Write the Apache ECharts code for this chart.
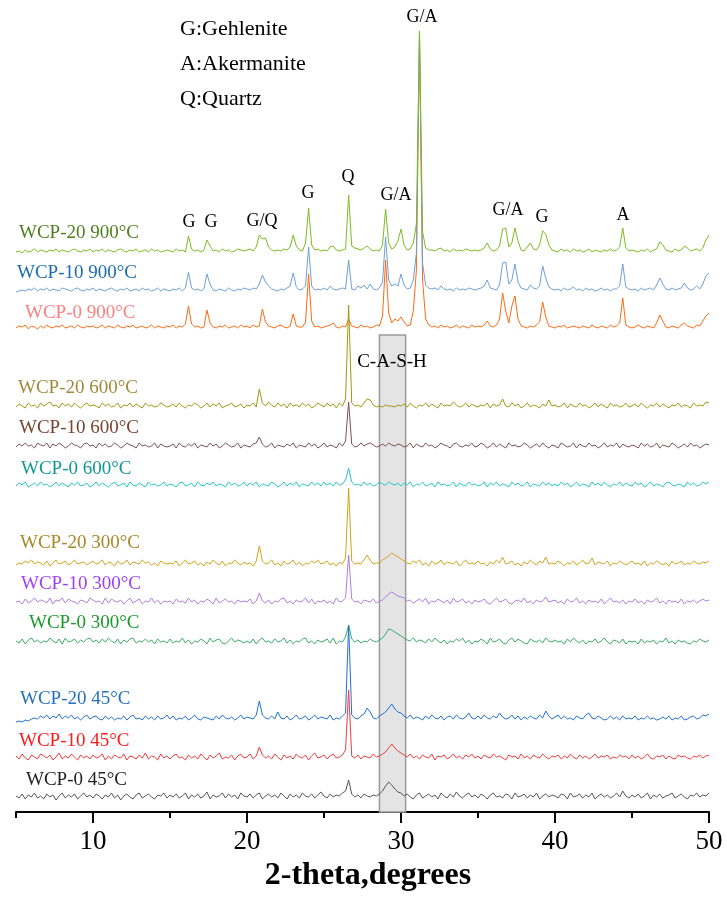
<!DOCTYPE html>
<html><head><meta charset="utf-8">
<script src="https://cdn.jsdelivr.net/npm/echarts@6/dist/echarts.min.js"></script>
<style>html,body{margin:0;padding:0;background:#fff}#c{width:727px;height:897px}</style>
</head><body><div id="c"></div>
<script>
// 2-theta sampling of every pattern: 5.0 .. 50.0 degrees, step 0.2
const thetaStart = 5, thetaStep = 0.2;
const majorTicks = [10, 20, 30, 40, 50];
const minorTicks = [5, 15, 25, 35, 45];

// Intensities (a.u.), one row per 5 degrees
const wcp0_45 = [
5,3,7,2,6, 4,8,3,5,2, 7,4,6,1,5, 8,3,6,4,7, 2,5,8,4,6,
3,7,5,2,6, 4,8,3,6,1, 5,7,4,2,6, 8,3,5,7,4, 2,6,5,8,3,
6,4,7,3,5, 8,2,6,4,7, 3,5,9,2,6, 4,5,8,3,7, 4,6,2,8,5,
4,7,3,6,8, 2,5,7,4,6, 3,8,5,2,7, 4,6,3,8,5, 4,7,3,6,9,
5,3,7,4,6, 5,8,10,21,7, 4,6,3,7,5, 4,6,5,7,10, 15,19,16,12,9,
8,5,7,4,2, 6,8,3,5,7, 4,6,2,8,5, 3,7,4,9,5, 3,6,8,4,6,
3,7,5,2,6, 8,4,5,3,7, 6,2,8,4,5, 7,3,6,4,8, 2,5,7,4,6,
5,3,7,6,2, 8,4,5,7,3, 6,4,8,2,5, 7,4,6,3,5, 8,4,10,5,3,
6,4,7,3,5, 8,2,6,4,7, 3,5,6,8,3, 5,7,4,2,6, 5,8,4,6,5,
8];
const wcp10_45 = [
6,3,8,4,2, 7,5,3,8,6, 4,7,2,5,9, 3,6,4,8,5, 2,7,4,6,3,
7,4,5,8,2, 6,3,7,5,4, 8,2,6,5,3, 7,4,9,3,6, 5,2,8,4,6,
3,6,8,4,5, 2,7,4,6,3, 8,5,2,7,4, 6,9,3,5,4, 7,2,6,8,4,
5,8,3,6,15, 7,4,6,3,8, 5,2,7,4,6, 3,8,5,4,7, 2,6,9,4,5,
7,3,6,8,4, 5,7,12,72,6, 4,7,3,6,5, 4,8,5,6,8, 10,14,18,14,11,
9,7,5,8,4, 6,3,7,5,4, 8,2,6,5,7, 3,5,8,4,6, 3,7,5,8,4,
6,3,7,5,4, 8,5,6,4,2, 7,5,6,3,8, 4,6,3,7,5, 4,8,5,3,6,
5,7,3,6,4, 8,5,3,7,4, 6,3,5,8,4, 6,5,7,3,5, 4,7,5,6,3,
7,4,6,3,5, 8,4,3,6,5, 7,3,6,4,3, 7,5,6,4,3, 6,5,7,4,6,
7];
const wcp20_45 = [
1,2,1,3,2, 4,5,4,7,5, 8,4,7,5,9, 4,7,5,8,4, 6,3,6,8,4,
6,7,4,3,7, 4,6,3,5,4, 7,3,6,8,4, 5,3,7,4,6, 3,7,4,5,8,
4,7,3,5,4, 7,3,5,8,4, 3,6,5,4,3, 7,4,8,5,4, 6,3,5,8,4,
6,5,4,8,22, 8,5,4,7,4, 11,5,4,7,3, 5,8,4,5,7, 3,5,8,4,6,
5,4,8,3,5, 4,7,10,98,8, 5,4,7,9,15, 11,5,4,7,9, 11,15,19,14,11,
10,7,5,8,4, 6,5,3,7,4, 8,5,4,7,3, 6,7,4,8,5, 4,6,10,5,4,
7,4,8,5,4, 7,5,10,6,4, 5,8,4,7,3, 6,4,7,5,4, 8,5,12,7,4,
6,8,4,7,4, 5,3,7,5,4, 8,10,5,4,7, 5,3,4,7,4, 6,3,7,4,5,
4,7,3,5,4, 7,4,5,3,4, 6,4,7,3,5, 4,7,3,4,6, 7,4,5,8,7,
9];
const wcp0_300 = [
5,3,7,2,6, 8,4,6,3,5, 4,8,5,3,7, 2,8,4,5,7, 3,6,4,7,8,
4,6,3,7,4, 8,5,3,7,2, 6,4,7,8,3, 5,4,7,4,6, 2,7,4,5,3,
7,3,5,4,8, 3,6,2,5,4, 7,5,2,8,4, 6,7,3,2,5, 8,4,6,5,3,
5,3,7,2,6, 8,4,5,3,7, 4,5,8,3,6, 2,5,4,7,8, 3,5,2,6,4,
5,7,3,8,2, 5,4,9,21,7, 4,6,3,5,4, 7,5,4,6,8, 12,17,16,14,12,
10,8,6,5,8, 4,6,5,3,7, 4,8,5,3,6, 2,5,4,7,5, 8,3,6,2,5,
4,7,5,2,8, 4,5,7,3,2, 6,8,4,7,5, 3,2,7,5,4, 6,3,8,5,4,
6,4,5,2,7, 4,8,5,3,6, 2,5,4,7,3, 5,8,4,2,6, 5,3,7,2,5,
4,5,2,7,3, 5,4,6,2,5, 4,8,3,5,2, 6,4,5,3,2, 5,4,7,5,4,
6];
const wcp10_300 = [
4,5,2,7,3, 5,8,4,6,5, 3,8,2,6,5, 8,3,7,5,4, 2,6,5,3,8,
6,4,5,2,8, 3,7,5,4,6, 2,5,8,3,5, 7,2,5,4,8, 3,6,2,5,4,
5,2,7,4,5, 3,8,4,6,2, 5,4,7,5,2, 8,3,5,7,4, 5,2,6,4,5,
4,7,2,5,13, 5,3,6,2,5, 4,7,8,3,5, 2,6,4,5,8, 3,7,2,5,4,
6,3,5,2,8, 4,5,8,51,7, 4,5,2,6,5, 4,7,3,5,6, 9,12,14,12,10,
9,8,5,6,3, 5,7,4,8,2, 5,4,7,5,3, 6,2,8,4,5, 7,3,5,2,6,
4,5,7,3,2, 5,8,4,5,7, 3,2,5,6,4, 8,3,5,2,6, 4,5,9,4,5,
6,3,5,2,7, 4,5,8,3,5, 2,6,4,5,3, 7,2,5,8,4, 5,3,6,2,5,
4,7,3,5,2, 6,4,5,8,3, 5,2,6,4,5, 3,7,2,5,4, 6,3,5,7,5,
6];
const wcp20_300 = [
3,5,4,7,5, 8,4,6,5,3, 7,2,5,8,4, 5,7,3,5,8, 4,5,6,3,5,
7,4,5,8,3, 6,5,2,7,4, 5,8,3,6,5, 4,8,5,6,3, 5,2,7,5,4,
5,4,7,2,5, 8,4,5,7,3, 5,2,6,4,8, 5,3,7,2,5, 4,8,5,3,6,
4,5,2,7,22, 7,4,5,8,3, 5,2,7,4,5, 8,3,6,2,5, 4,7,5,8,4,
5,7,3,5,2, 6,4,10,80,7, 4,5,4,8,13, 8,4,5,5,8, 10,12,15,13,11,
9,7,5,4,7, 5,8,3,5,2, 7,4,5,8,3, 6,5,4,7,2, 5,8,4,5,4,
7,4,5,2,6, 4,8,5,11,4, 5,7,3,5,2, 6,4,8,5,3, 7,5,11,4,5,
4,7,5,2,5, 4,7,3,5,8, 4,5,10,3,6, 5,4,7,2,5, 4,7,5,3,5,
7,4,5,3,7, 2,5,4,7,5, 3,5,2,7,4, 5,7,3,5,4, 7,5,4,6,5,
7];
const wcp0_600 = [
4,7,5,8,3, 5,7,4,8,5, 6,3,5,8,4, 7,5,3,7,5, 8,4,5,7,3,
5,8,4,7,5, 3,6,8,4,5, 7,3,8,5,4, 7,5,3,8,5, 6,4,5,8,4,
6,5,3,7,8, 4,5,7,3,8, 5,4,7,5,8, 4,6,5,3,8, 5,7,4,5,8,
4,7,5,8,3, 6,5,4,8,6, 3,5,8,4,7, 5,8,3,6,5, 4,8,5,7,4,
8,5,7,4,8, 5,6,10,22,8, 5,6,4,8,5, 7,4,5,8,6, 5,8,6,5,7,
4,7,5,8,3, 6,5,8,4,5, 7,3,8,5,6, 4,5,8,3,7, 5,4,8,5,6,
4,5,8,3,7, 5,8,4,6,5, 3,8,5,7,4, 5,8,3,6,5, 4,8,5,7,4,
6,4,8,5,7, 3,5,8,4,6, 5,3,8,5,7, 4,8,5,3,6, 5,8,4,7,5,
4,8,5,7,3, 5,8,4,6,5, 3,7,8,5,4, 6,5,3,8,5, 7,4,5,8,6,
8];
const wcp10_600 = [
4,7,5,8,5, 6,3,8,6,5, 8,3,7,5,8, 6,3,5,8,6, 5,3,7,8,5,
6,3,8,5,7, 4,5,8,6,3, 5,8,6,5,3, 8,5,6,4,5, 8,3,7,5,4,
5,7,3,8,5, 4,7,5,8,3, 6,5,4,8,5, 7,3,5,8,6, 4,5,8,3,6,
5,4,7,8,14, 7,4,5,8,3, 6,5,4,7,5, 8,3,6,5,4, 8,5,7,3,5,
8,4,6,5,3, 8,5,10,49,7, 4,5,8,5,7, 8,6,4,5,7, 5,8,6,5,7,
6,4,5,8,3, 7,5,4,8,5, 6,3,5,8,6, 5,3,7,8,5, 4,6,5,8,4,
5,8,6,3,5, 8,4,7,5,3, 8,5,6,4,5, 8,6,3,5,7, 4,8,5,3,6,
5,3,8,6,4, 5,8,3,7,5, 4,8,5,6,3, 5,8,4,6,5, 8,3,7,5,4,
6,5,3,8,5, 7,4,5,8,3, 6,5,4,8,6, 3,5,7,4,8, 5,6,3,5,7,
6];
const wcp20_600 = [
4,7,5,3,8, 5,6,3,8,5, 7,9,5,6,3, 8,5,7,4,8, 5,3,6,8,5,
6,5,3,8,5, 7,4,5,8,3, 6,5,8,4,7, 5,3,8,5,6, 4,5,8,6,4,
5,7,4,8,5, 3,6,5,8,6, 3,5,8,4,7, 5,8,3,5,6, 8,4,5,7,3,
6,5,8,4,22, 8,5,9,6,4, 8,5,7,3,8, 5,6,4,8,5, 7,3,5,8,6,
4,8,5,7,3, 8,5,12,106,8, 5,6,4,8,12, 11,6,4,5,4, 6,5,5,4,6,
5,7,4,8,5, 3,6,5,8,4, 7,5,3,8,5, 6,5,9,6,4, 5,8,4,7,5,
4,6,5,8,3, 7,5,6,12,5, 4,8,5,7,3, 5,8,4,6,5, 3,7,5,11,5,
6,4,5,8,3, 7,5,4,8,5, 6,3,5,8,4, 7,5,3,8,5, 6,4,5,8,4,
5,7,4,8,5, 3,6,5,8,4, 7,5,3,6,5, 8,4,6,5,3, 8,5,6,5,9,
8];
const wcp0_900 = [
4,6,5,7,3, 6,5,3,6,4, 7,5,4,6,5, 7,4,5,6,4, 7,5,4,6,5,
6,4,5,7,4, 6,5,4,7,5, 4,6,5,7,4, 5,6,4,5,7, 4,6,5,4,6,
5,7,4,6,5, 8,26,8,5,6, 4,5,22,9,5, 4,6,5,7,4, 5,6,4,7,5,
6,4,7,5,6, 23,10,6,5,4, 6,7,5,4,6, 18,6,5,5,10, 58,11,5,6,4,
5,6,7,9,5, 4,6,5,13,6, 5,4,7,5,6, 4,5,7,6,16, 72,19,9,13,11,
15,10,6,7,21, 62,292,52,13,7, 5,6,4,7,5, 6,4,5,7,4, 6,5,4,7,5,
6,5,7,11,6, 5,7,13,39,21, 9,26,36,13,6, 5,4,6,5,7, 10,30,15,6,5,
4,6,5,7,4, 5,6,5,4,6, 5,4,7,5,4, 6,5,4,7,5, 6,9,34,7,5,
4,5,7,5,4, 6,5,4,9,17, 11,5,4,6,5, 4,7,9,6,5, 4,7,6,11,16,
19];
const wcp10_900 = [
3,4,5,4,6, 5,7,4,6,5, 7,4,6,5,4, 7,6,5,4,6, 7,5,4,6,5,
7,4,6,5,4, 6,7,5,4,6, 5,7,4,5,6, 4,7,5,6,4, 5,7,4,6,5,
4,6,5,7,4, 7,23,7,5,6, 4,6,21,11,5, 4,6,5,4,7, 5,4,6,5,7,
6,5,7,6,11, 20,13,9,6,5, 4,6,5,7,9, 22,8,5,6,9, 48,9,5,6,5,
7,5,9,6,5, 6,7,6,35,6, 5,9,7,10,6, 11,6,5,7,13, 58,15,9,11,9,
21,10,6,7,15, 42,264,32,10,7, 6,7,5,9,6, 5,6,4,7,5, 6,5,7,6,5,
6,7,9,15,7, 6,5,10,32,33, 11,15,31,13,7, 6,5,10,7,6, 9,29,17,8,6,
5,6,4,7,5, 6,8,5,6,4, 7,5,6,4,5, 7,5,6,4,6, 6,9,31,8,6,
5,6,4,7,5, 6,7,5,10,17, 11,6,5,7,5, 6,7,12,7,5, 6,9,6,11,19,
22];
const wcp20_900 = [
4,5,3,6,4, 5,7,4,6,5, 4,6,5,7,4, 6,5,4,6,7, 5,4,6,5,7,
4,6,5,7,4, 6,5,4,6,7, 5,4,6,5,7, 4,5,6,4,7, 5,6,4,5,6,
5,4,7,5,6, 4,20,7,5,6, 4,6,16,10,5, 6,4,7,5,6, 4,5,7,6,5,
6,7,5,9,21, 17,18,9,6,5, 6,5,7,6,9, 21,10,6,5,13, 48,11,6,7,5,
6,5,9,10,6, 5,6,7,61,10, 8,7,6,8,10, 7,5,6,5,11, 47,13,7,9,15,
27,11,6,7,13, 32,225,24,8,6, 6,5,7,8,5, 6,4,7,5,6, 5,7,6,5,6,
5,6,8,13,7, 5,6,10,27,28, 9,13,28,15,6, 5,9,13,7,6, 11,25,22,11,6,
5,4,7,5,6, 4,7,5,6,4, 5,7,4,6,5, 4,6,5,7,5, 6,9,28,8,5,
6,5,4,6,5, 7,4,6,7,14, 11,6,5,4,7, 5,6,10,8,5, 6,7,5,8,16,
21];

const sampleNames = ['WCP-0 900°C','WCP-10 900°C','WCP-20 900°C','WCP-0 600°C','WCP-10 600°C','WCP-20 600°C',
  'WCP-0 300°C','WCP-10 300°C','WCP-20 300°C','WCP-0 45°C','WCP-10 45°C','WCP-20 45°C'];
const sampleData = [wcp0_900, wcp10_900, wcp20_900, wcp0_600, wcp10_600, wcp20_600,
  wcp0_300, wcp10_300, wcp20_300, wcp0_45, wcp10_45, wcp20_45];
const peakLabels = ['G/A','G','G','G/Q','G','Q','G/A','G/A','G','A'];
const phaseLegend = ['G:Gehlenite','A:Akermanite','Q:Quartz'];
const bandRange = [28.6, 30.3];
const bandLabel = 'C-A-S-H';

// ---------- layout / style (not data) ----------
const stackOffsets = [480, 517, 556, 322, 361, 401, 166, 206, 244, 11, 50, 89];
const bandTop = 477;
const lineColors = ['#ff6a13','#6f9fd8','#7dbb21','#22c8c8','#7e4f4f','#9c9a12',
  '#3aaa6a','#b27ce0','#d4a31a','#555555','#f03c3c','#2070d8'];
const nameColors = ['#ff7f7f','#1b6db3','#4e7f1f','#12989a','#7a4330','#a38a3a',
  '#1a9a2a','#a040f5','#a88828','#222222','#ff1a1a','#2472c0'];
const namePos = [[25,313],[17,273],[19,233],[21,469],[19,428],[18,388],[29,623],[21,584],[20,543],[26,780],[19,741],[20,699]];
const peakPos = [[422,17],[189,222],[211,222],[262,221],[308,193],[348,177],[396,195],[508,210],[542,217],[623,215]];
const legendPos = [[180,29],[180,64],[180,99]];
const SERIF = '"Liberation Serif","Times New Roman",serif';

const series = [{
  type:'line', data:[], z:0, silent:true,
  markArea:{silent:true, itemStyle:{color:'#e4e4e4', borderColor:'#9a9a9a', borderWidth:1.5},
    data:[[{coord:[bandRange[0],0]},{coord:[bandRange[1],bandTop]}]]}
}];
sampleData.forEach((arr, k) => {
  series.push({
    name: sampleNames[k], type:'line', showSymbol:false, symbol:'none', z:2+k,
    lineStyle:{width:1, color:lineColors[k]}, itemStyle:{color:lineColors[k]},
    data: arr.map((v,i)=>[+(thetaStart + thetaStep*i).toFixed(1), v + stackOffsets[k]])
  });
});

const graphics = [];
sampleNames.forEach((n,k)=>graphics.push({type:'text', x:namePos[k][0], y:namePos[k][1], z:50,
  style:{text:n, fill:nameColors[k], font:'19px '+SERIF, align:'left', verticalAlign:'middle'}}));
peakLabels.forEach((n,k)=>graphics.push({type:'text', x:peakPos[k][0], y:peakPos[k][1], z:50,
  style:{text:n, fill:'#000', font:'18px '+SERIF, align:'center', verticalAlign:'middle'}}));
phaseLegend.forEach((n,k)=>graphics.push({type:'text', x:legendPos[k][0], y:legendPos[k][1], z:50,
  style:{text:n, fill:'#000', font:'22px '+SERIF, align:'left', verticalAlign:'middle'}}));
graphics.push({type:'text', x:392, y:362, z:50, style:{text:bandLabel, fill:'#000', font:'19px '+SERIF, align:'center', verticalAlign:'middle'}});
const bad = sampleData.map((a,k)=>a.length!==226 ? sampleNames[k]+':'+a.length : null).filter(Boolean);
if (bad.length) graphics.push({type:'text', x:450, y:120, z:60, style:{text:'LEN '+bad.join(' '), fill:'#f00', font:'14px sans-serif'}});

const chart = echarts.init(document.getElementById('c'), null, {renderer:'canvas'});
chart.setOption({
  animation:false,
  backgroundColor:'#fff',
  grid:{left:16, right:18, top:10, bottom:85, containLabel:false},
  xAxis:[{
    type:'value', min:5, max:50, interval:5, position:'bottom',
    axisLine:{show:true, lineStyle:{color:'#000', width:2}},
    axisTick:{show:true, length:11, lineStyle:{color:'#000', width:2}, customValues:majorTicks},
    axisLabel:{customValues:majorTicks, fontSize:27, fontFamily:SERIF, color:'#000', margin:16},
    splitLine:{show:false},
    name:'2-theta,degrees', nameLocation:'middle', nameGap:46,
    nameTextStyle:{fontSize:32, fontWeight:'bold', fontFamily:SERIF, color:'#000', padding:[0,0,0,11]}
  },{
    type:'value', min:5, max:50, interval:5, position:'bottom',
    axisLine:{show:false},
    axisTick:{show:true, length:6, lineStyle:{color:'#000', width:2}, customValues:minorTicks},
    axisLabel:{show:false}, splitLine:{show:false}
  }],
  yAxis:{type:'value', min:0, max:802, show:false, splitLine:{show:false}},
  series: series,
  graphic: graphics
});
</script></body></html>
